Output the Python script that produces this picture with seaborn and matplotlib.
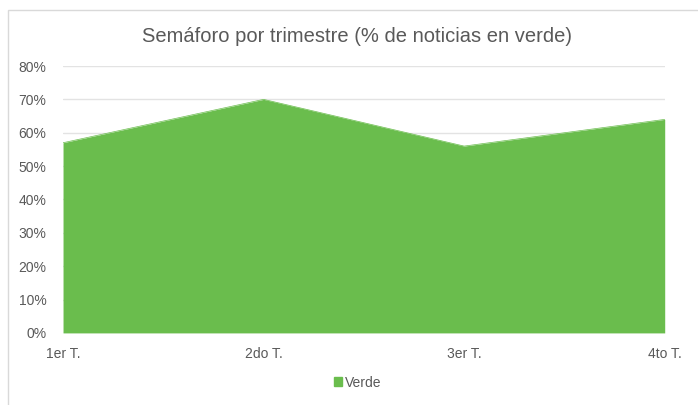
import numpy as np
import pandas as pd
import seaborn as sns
from matplotlib import pyplot as plt
from matplotlib.patches import Rectangle, Patch
from matplotlib.ticker import PercentFormatter

# datos del gráfico
trimestres = ['1er T.', '2do T.', '3er T.', '4to T.']
verde = [0.57, 0.70, 0.56, 0.64]

COLOR_VERDE = '#6abd4d'
COLOR_TEXTO = '#595959'

sns.set_theme(style='white')
plt.rcParams['font.family'] = ['Liberation Sans', 'DejaVu Sans']

df = pd.DataFrame({'trimestre': trimestres, 'verde': verde})
x = np.arange(len(df))

fig = plt.figure(figsize=(6.98, 4.05), dpi=100)
ax = fig.add_axes([0.0903, 0.178, 0.862, 0.659])

# marco del gráfico
fig.patches.append(Rectangle((0.012, -0.05), 1.1, 1.025, transform=fig.transFigure,
                             fill=False, edgecolor='#d9d9d9', linewidth=1))

# líneas de cuadrícula
ax.set_ylim(0, 0.8)
ax.set_xlim(0, len(df) - 1)
ax.set_yticks(np.arange(0, 0.81, 0.1))
ax.yaxis.grid(True, color='#e3e3e3', linewidth=1)
ax.set_axisbelow(True)

ax.fill_between(x, df['verde'], 0, color=COLOR_VERDE, linewidth=0, zorder=2)
sns.lineplot(x=x, y=df['verde'], ax=ax, color=COLOR_VERDE, linewidth=0.5, zorder=2)

ax.set_xticks(x)
ax.set_xticklabels(df['trimestre'])
ax.yaxis.set_major_formatter(PercentFormatter(1.0, decimals=0))
ax.tick_params(axis='both', colors=COLOR_TEXTO, labelsize=10, length=0)
ax.tick_params(axis='x', pad=10)
ax.tick_params(axis='y', pad=12)
ax.set_xlabel('')
ax.set_ylabel('')
for s in ax.spines.values():
    s.set_visible(False)

fig.text(0.512, 0.91, 'Semáforo por trimestre (% de noticias en verde)',
         ha='center', va='center', fontsize=14.5, color=COLOR_TEXTO)

ax.legend(handles=[Patch(color=COLOR_VERDE, label='Verde')], loc='center',
          bbox_to_anchor=(0.512, 0.055), bbox_transform=fig.transFigure,
          frameon=False, fontsize=10, handlelength=0.6, handleheight=0.6,
          handletextpad=0.2, labelcolor=COLOR_TEXTO)

fig.savefig('out.png', dpi=100, facecolor='white')
